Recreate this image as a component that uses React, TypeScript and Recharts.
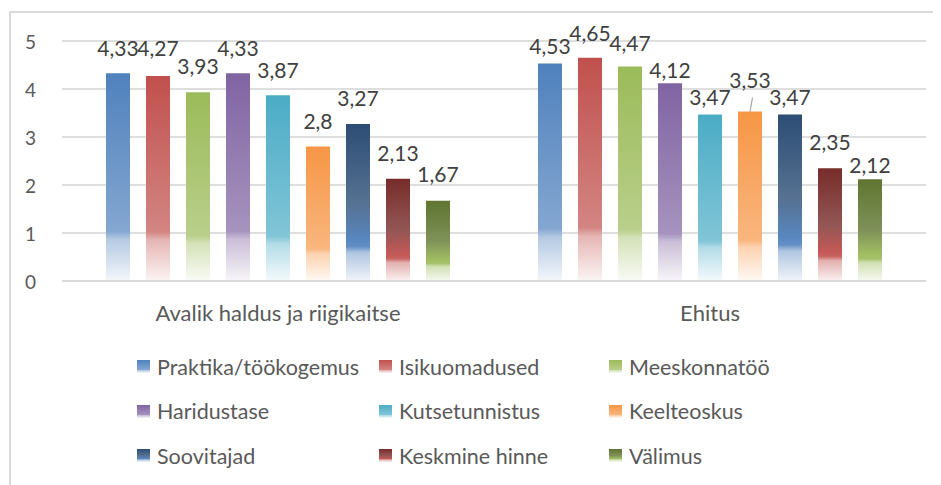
import React from 'react';
import { BarChart, Bar, XAxis, YAxis, CartesianGrid, LabelList } from 'recharts';

// ---------- data ----------
const categories = ['Avalik haldus ja riigikaitse', 'Ehitus'];
const seriesNames = [
  'Praktika/töökogemus',
  'Isikuomadused',
  'Meeskonnatöö',
  'Haridustase',
  'Kutsetunnistus',
  'Keelteoskus',
  'Soovitajad',
  'Keskmine hinne',
  'Välimus',
];
const praktika = [4.33, 4.53];
const isikuomadused = [4.27, 4.65];
const meeskonnatoo = [3.93, 4.47];
const haridustase = [4.33, 4.12];
const kutsetunnistus = [3.87, 3.47];
const keelteoskus = [2.8, 3.53];
const soovitajad = [3.27, 3.47];
const keskmineHinne = [2.13, 2.35];
const valimus = [1.67, 2.12];
const seriesValues = [
  praktika,
  isikuomadused,
  meeskonnatoo,
  haridustase,
  kutsetunnistus,
  keelteoskus,
  soovitajad,
  keskmineHinne,
  valimus,
];
const yTicks = [0, 1, 2, 3, 4, 5];

// ---------- style ----------
const FONT = 'Lato, "Open Sans", "Noto Sans", sans-serif';
const topColors = ['#4F81BD', '#C0504D', '#9BBB59', '#8064A2', '#4BACC6', '#F79646', '#2C4D75', '#772C2A', '#5F7530'];
const lowColors = ['#4F81BD', '#C0504D', '#9BBB59', '#8064A2', '#4BACC6', '#F79646', '#4F81BD', '#C0504D', '#9BBB59'];
const isDark = [false, false, false, false, false, false, true, true, true];
// label lift (px between bar top and label baseline)
const liftSecond = [10, 17, 15, 5, 9, 24, 9, 18, 6];
const liftFirst = [17, 20, 18, 17, 17, 18, 18, 18, 19];

const hexToRgb = (h: string) => {
  const n = parseInt(h.slice(1), 16);
  return [(n >> 16) & 255, (n >> 8) & 255, n & 255];
};
const mixWhite = (h: string, t: number) => {
  const [r, g, b] = hexToRgb(h);
  const f = (v: number) => Math.round(v + (255 - v) * t);
  return `rgb(${f(r)},${f(g)},${f(b)})`;
};

const stopsFor = (i: number): [number, string][] => {
  const top = topColors[i];
  const low = lowColors[i];
  if (isDark[i]) {
    return [
      [0, top],
      [0.5, mixWhite(top, 0.2)],
      [0.74, mixWhite(low, 0.05)],
      [0.78, mixWhite(low, 0.1)],
      [0.82, mixWhite(low, 0.55)],
      [1, mixWhite(low, 0.92)],
    ];
  }
  return [
    [0, top],
    [0.76, mixWhite(top, 0.3)],
    [0.8, mixWhite(top, 0.58)],
    [1, mixWhite(top, 0.94)],
  ];
};

const data = categories.map((c, ci) => {
  const row: Record<string, string | number> = { category: c };
  seriesNames.forEach((_, si) => {
    row['s' + si] = seriesValues[si][ci];
  });
  return row;
});

const fmt = (v: number) => String(v).replace('.', ',');

const makeLabel = (si: number) => (props: any) => {
  const { x, y, width, value, index } = props;
  const cx = Number(x) + Number(width) / 2;
  const top = Number(y);
  const lift = index === 0 ? liftFirst[si] : liftSecond[si];
  const leader = si === 5 && index === 1;
  return (
    <g>
      {leader && <line x1={cx + 2.5} y1={top - 14} x2={cx} y2={top} stroke="#A6A6A6" strokeWidth={1.2} />}
      <text x={cx} y={top - lift} textAnchor="middle" fill="#404040" fontSize={21} fontFamily={FONT}>
        {fmt(Number(value))}
      </text>
    </g>
  );
};

const YTick = (props: any) => {
  const { x, y, payload } = props;
  return (
    <text x={x - 26} y={y + 7.5} textAnchor="end" fill="#595959" fontSize={19} fontFamily={FONT}>
      {payload.value}
    </text>
  );
};

const XTick = (props: any) => {
  const { x, y, payload } = props;
  return (
    <text x={x} y={y + 40} textAnchor="middle" fill="#595959" fontSize={22} fontFamily={FONT}>
      {payload.value}
    </text>
  );
};

const legendCols = [129, 371, 601];
const legendRows = [358.5, 403, 447.5];

export default function App() {
  return (
    <div style={{ position: 'relative', width: 933, height: 477, overflow: 'hidden', background: '#fff' }}>
      <div
        style={{
          position: 'absolute',
          left: 1,
          top: 3,
          width: 1200,
          height: 1200,
          border: '2px solid #D9D9D9',
          boxSizing: 'border-box',
        }}
      />
      <div style={{ position: 'absolute', left: 0, top: 0 }}>
        <BarChart
          width={933}
          height={477}
          data={data}
          margin={{ top: 33, right: 15, bottom: 164, left: 0 }}
          barCategoryGap={44}
          barGap={16}
        >
          <defs>
            {seriesNames.map((_, i) => (
              <linearGradient key={i} id={'g' + i} x1="0" y1="0" x2="0" y2="1">
                {stopsFor(i).map(([o, c], k) => (
                  <stop key={k} offset={o} stopColor={c} />
                ))}
              </linearGradient>
            ))}
          </defs>
          <CartesianGrid vertical={false} stroke="#D3D3D3" strokeWidth={1.5} />
          <XAxis
            dataKey="category"
            height={40}
            tickLine={false}
            tickSize={0}
            tickMargin={0}
            axisLine={{ stroke: '#D9D9D9', strokeWidth: 2 }}
            tick={<XTick />}
            interval={0}
          />
          <YAxis
            width={54}
            domain={[0, 5]}
            ticks={yTicks}
            axisLine={false}
            tickLine={false}
            tickSize={0}
            tickMargin={0}
            tick={<YTick />}
          />
          {seriesNames.map((name, si) => (
            <Bar key={si} dataKey={'s' + si} name={name} fill={`url(#g${si})`} isAnimationActive={false}>
              <LabelList dataKey={'s' + si} content={makeLabel(si)} />
            </Bar>
          ))}
        </BarChart>
      </div>
      {seriesNames.map((name, si) => {
        const col = si % 3;
        const row = Math.floor(si / 3);
        const grad = stopsFor(si)
          .map(([o, c]) => `${c} ${Math.round(o * 100)}%`)
          .join(', ');
        return (
          <div
            key={si}
            style={{
              position: 'absolute',
              left: legendCols[col],
              top: legendRows[row] - 15,
              height: 30,
              display: 'flex',
              alignItems: 'center',
              whiteSpace: 'nowrap',
              fontFamily: FONT,
              fontSize: 21.5,
              color: '#595959',
            }}
          >
            <span
              style={{
                display: 'inline-block',
                width: 13,
                height: 13,
                marginRight: 7,
                background: `linear-gradient(to bottom, ${grad})`,
              }}
            />
            <span>{name}</span>
          </div>
        );
      })}
    </div>
  );
}
